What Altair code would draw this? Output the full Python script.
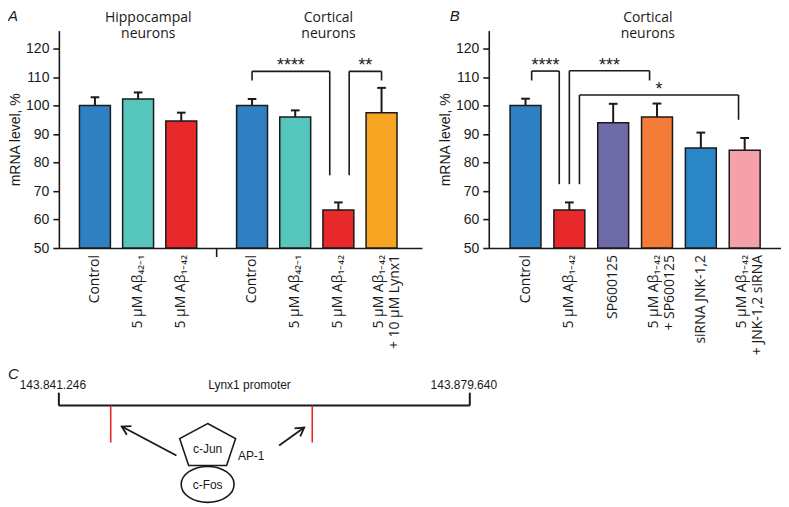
import math
import altair as alt
import pandas as pd

# ---------------- data ----------------
A_labels = ["Control", "5 μM Aβ₄₂₋₁", "5 μM Aβ₁₋₄₂", "Control", "5 μM Aβ₄₂₋₁",
            "5 μM Aβ₁₋₄₂", "5 μM Aβ₁₋₄₂\n+ 10 μM Lynx1"]
A_values = [100.0, 102.3, 94.6, 100.0, 96.0, 63.3, 97.5]
A_errors = [2.9, 2.3, 2.9, 2.3, 2.3, 2.7, 8.7]
A_colors = ["#2f80c2", "#56c5bc", "#e8292b", "#2f80c2", "#56c5bc", "#e8292b", "#f6a522"]
A_groups = [("Hippocampal", "neurons"), ("Cortical", "neurons")]

B_labels = ["Control", "5 μM Aβ₁₋₄₂", "SP600125", "5 μM Aβ₁₋₄₂\n+ SP600125",
            "siRNA JNK-1,2", "5 μM Aβ₁₋₄₂\n+ JNK-1,2 siRNA"]
B_values = [100.0, 63.3, 94.0, 96.0, 85.1, 84.3]
B_errors = [2.4, 2.7, 6.6, 4.7, 5.4, 4.3]
B_colors = ["#2f80c2", "#e8292b", "#6d6aa7", "#f47c38", "#2a86c5", "#f4a1aa"]
B_groups = [("Cortical", "neurons")]

# significance brackets: stars, left x, right x, bracket level, left leg end, right leg end
A_brackets = [("****", 4.64, 6.44, 112.0, 108.8, 75.5),
              ("**", 6.89, 7.64, 112.0, 75.5, 108.8)]
B_brackets = [("****", 1.14, 1.77, 112.1, 108.8, 72.4),
              ("***", 2.00, 3.83, 112.2, 72.4, 108.8),
              ("*", 2.23, 5.86, 103.7, 72.4, 95.0)]

# panel C: Lynx1 promoter and AP-1 sites
promoter_start = 143841246
promoter_end = 143879640
ap1_sites = [143846090, 143864920]

# ---------------- layout constants ----------------
H = 218
W_A, W_B = 364, 293
Y_DOMAIN = [50, 126.3]
XA_DOMAIN = [0.28, 8.46]
XB_DOMAIN = [0.275, 6.715]
GAP = 0.64
FONT = "Open Sans"
AXFONT = "Liberation Sans"
INK = "#1a1a1a"


def panel(labels, values, errors, colors, positions, brackets, groups, group_x,
          letter, letter_x, width, xdomain, separator=None):
    xs = alt.Scale(domain=xdomain, nice=False, zero=False)
    ys = alt.Scale(domain=Y_DOMAIN, nice=False, zero=False)
    xax = alt.Axis(labels=False, ticks=False, title=None, grid=False,
                   domainColor=INK, domainWidth=1.6)
    yax = alt.Axis(values=list(range(50, 121, 10)), title="mRNA level, %",
                   grid=False, domainColor=INK, domainWidth=1.6, tickColor=INK,
                   tickWidth=1.6, tickSize=6, labelPadding=4, labelFont=AXFONT,
                   labelFontSize=14, labelColor=INK, titleFont=AXFONT,
                   titleFontSize=14, titleFontWeight="normal", titleColor=INK,
                   titlePadding=3)

    def X(f):
        return alt.X(f, type="quantitative", scale=xs, axis=xax)

    def Y(f):
        return alt.Y(f, type="quantitative", scale=ys, axis=yax)

    px_per_unit = width / (xdomain[1] - xdomain[0])
    df = pd.DataFrame({"pos": positions, "value": values, "label": labels, "color": colors})
    df["top"] = [v + e for v, e in zip(values, errors)]
    df["capL"] = df["pos"] - 0.1
    df["capR"] = df["pos"] + 0.1
    df["lx"] = [p - (3.0 / px_per_unit if "\n" in l else 0.0) for p, l in zip(positions, labels)]

    bars = alt.Chart(df).mark_bar(size=31, stroke=INK, strokeWidth=1.5).encode(
        x=X("pos"), y=Y("value"), y2=alt.datum(50),
        color=alt.Color("color:N", scale=None))
    stems = alt.Chart(df).mark_rule(color=INK, strokeWidth=2).encode(
        x=X("pos"), y=Y("value"), y2=alt.Y2("top"))
    caps = alt.Chart(df).mark_rule(color=INK, strokeWidth=2).encode(
        x=X("capL"), x2=alt.X2("capR"), y=Y("top"))

    segs = []
    stars = []
    for s, xl, xr, yb, yl, yr in brackets:
        segs.append({"x": xl, "x2": xr, "y": yb, "y2": yb})
        segs.append({"x": xl, "x2": xl, "y": yb, "y2": yl})
        segs.append({"x": xr, "x2": xr, "y": yb, "y2": yr})
        stars.append({"mid": (xl + xr) / 2, "y": yb, "stars": s})
    seg_df = pd.DataFrame(segs)
    star_df = pd.DataFrame(stars)
    brk = alt.Chart(seg_df).mark_rule(color=INK, strokeWidth=1.6).encode(
        x=X("x"), x2=alt.X2("x2"), y=Y("y"), y2=alt.Y2("y2"))
    startext = alt.Chart(star_df).mark_text(
        baseline="alphabetic", fontSize=18, font=AXFONT, color=INK, dy=0).encode(
        x=X("mid"), y=Y("y"), text="stars:N")

    xlabels = alt.Chart(df).mark_text(
        angle=270, align="right", baseline="middle", lineBreak="\n", lineHeight=16,
        fontSize=14, font=FONT, color=INK).encode(
        x=X("lx"), y=alt.value(H + 7), text="label:N")

    gdf = pd.DataFrame({"gx": group_x,
                        "l1": [t[0] for t in groups],
                        "l2": [t[1] for t in groups]})
    gline1 = alt.Chart(gdf).mark_text(
        baseline="middle", align="center", fontSize=14, font=FONT, color=INK).encode(
        x=X("gx"), y=alt.value(-13), text="l1:N")
    gline2 = alt.Chart(gdf).mark_text(
        baseline="middle", align="center", fontSize=14, font=FONT, color=INK).encode(
        x=X("gx"), y=alt.value(3), text="l2:N")

    ldf = pd.DataFrame({"t": [letter]})
    let = alt.Chart(ldf).mark_text(
        align="left", baseline="top", fontSize=15, font=AXFONT, fontStyle="italic",
        color=INK).encode(x=alt.value(letter_x), y=alt.value(-22), text="t:N")

    layers = [bars, stems, caps, brk, startext, xlabels, gline1, gline2, let]
    if separator is not None:
        sdf = pd.DataFrame({"s": [separator]})
        layers.append(alt.Chart(sdf).mark_rule(color=INK, strokeWidth=1.6).encode(
            x=X("s"), y=alt.value(H), y2=alt.value(H + 9)))
    return alt.layer(*layers).properties(width=width, height=H)


A_pos = [i + 1 + (GAP if i >= 3 else 0.0) for i in range(len(A_values))]
B_pos = [i + 1 for i in range(len(B_values))]

panelA = panel(A_labels, A_values, A_errors, A_colors, A_pos, A_brackets,
               A_groups, [2.235, 6.41], "A", -51, W_A, XA_DOMAIN,
               separator=3 + (1 + GAP) / 2)
panelB = panel(B_labels, B_values, B_errors, B_colors, B_pos, B_brackets,
               B_groups, [3.79], "B", -39, W_B, XB_DOMAIN)

# ---------------- panel C: schematic ----------------
WC, HC = 412, 135
span = promoter_end - promoter_start


def g(frac):
    return promoter_start + frac * span


cxs = alt.Scale(domain=[promoter_start, promoter_end], nice=False, zero=False)
cys = alt.Scale(domain=[0, HC], nice=False, zero=False, reverse=True)


def CX(f):
    return alt.X(f, type="quantitative", scale=cxs, axis=None)


def CY(f):
    return alt.Y(f, type="quantitative", scale=cys, axis=None)


CFONT = "Liberation Sans"
LINE_Y, TICK_TOP, SITE_BOTTOM = 36, 23, 73
line_df = pd.DataFrame({"x": [promoter_start, promoter_start, promoter_end],
                        "x2": [promoter_end, promoter_start, promoter_end],
                        "y": [LINE_Y, TICK_TOP, TICK_TOP],
                        "y2": [LINE_Y, LINE_Y, LINE_Y]})
c_line = alt.Chart(line_df).mark_rule(color=INK, strokeWidth=2).encode(
    x=CX("x"), x2=alt.X2("x2"), y=CY("y"), y2=alt.Y2("y2"))

site_df = pd.DataFrame({"x": ap1_sites, "y": [LINE_Y] * 2, "y2": [SITE_BOTTOM] * 2})
c_sites = alt.Chart(site_df).mark_rule(color="#e02a2a", strokeWidth=1.6).encode(
    x=CX("x"), y=CY("y"), y2=alt.Y2("y2"))

num_df = pd.DataFrame({"x": [promoter_start, promoter_end],
                       "t": [f"{v:,}".replace(",", ".") for v in (promoter_start, promoter_end)],
                       "y": [15, 15]})
c_nums = alt.Chart(num_df).mark_text(
    fontSize=12, font=CFONT, color=INK, baseline="middle", dx=-6).encode(
    x=CX("x"), y=CY("y"), text="t:N")

lab_df = pd.DataFrame({"x": [g(0.464), g(0.362), g(0.362), g(0.468)],
                       "y": [15, 80, 116, 87],
                       "t": ["Lynx1 promoter", "c-Jun", "c-Fos", "AP-1"]})
c_labs = alt.Chart(lab_df).mark_text(
    fontSize=12, font=CFONT, color=INK, baseline="middle").encode(
    x=CX("x"), y=CY("y"), text="t:N")

# arrows (start -> tip)
arrows = [(0.286, 86, 0.153, 57), (0.536, 76, 0.597, 58)]
arr_rows, head_rows = [], []
for fx0, y0, fx1, y1 in arrows:
    arr_rows.append({"x": g(fx0), "y": y0, "x2": g(fx1), "y2": y1})
    dxp = (fx1 - fx0) * WC
    dyp = (y1 - y0)
    ang = math.degrees(math.atan2(dxp, -dyp)) % 360
    head_rows.append({"x": g(fx1), "y": y1, "a": ang})
c_shafts = alt.Chart(pd.DataFrame(arr_rows)).mark_rule(color=INK, strokeWidth=1.8).encode(
    x=CX("x"), y=CY("y"), x2=alt.X2("x2"), y2=alt.Y2("y2"))
c_heads = alt.Chart(pd.DataFrame(head_rows)).mark_point(
    shape="M -0.7 1.2 L 0 0 L 0.7 1.2", filled=False, size=196, color=INK,
    strokeWidth=1.8, opacity=1).encode(
    x=CX("x"), y=CY("y"), angle=alt.Angle("a:Q", scale=None))

pent_df = pd.DataFrame({"x": [g(0.362)], "y": [75]})
c_pent = alt.Chart(pent_df).mark_point(
    shape="M 0 -0.75 L 1 -0.21 L 0.68 0.75 L -0.68 0.75 L -1 -0.21 Z",
    size=3136, filled=False, color=INK, strokeWidth=1.6, opacity=1).encode(
    x=CX("x"), y=CY("y"))
ell_df = pd.DataFrame({"x": [g(0.362)], "y": [115]})
c_ell = alt.Chart(ell_df).mark_point(
    shape="M -1 0 A 1 0.68 0 1 0 1 0 A 1 0.68 0 1 0 -1 0 Z",
    size=2809, filled=False, color=INK, strokeWidth=1.6, opacity=1).encode(
    x=CX("x"), y=CY("y"))

c_letter = alt.Chart(pd.DataFrame({"t": ["C"]})).mark_text(
    align="left", baseline="top", fontSize=15, font=AXFONT, fontStyle="italic",
    color=INK).encode(x=alt.value(-51), y=alt.value(-3), text="t:N")

panelC = alt.layer(c_line, c_sites, c_nums, c_labs, c_shafts, c_heads, c_pent,
                   c_ell, c_letter).properties(width=WC, height=HC)

top = alt.hconcat(panelA, panelB, spacing=67, bounds="flush")
chart = alt.vconcat(top, panelC, spacing=H + 122, bounds="flush").properties(
    padding=0
).configure_view(stroke=None)

chart.save("out.html", embed_options={"renderer": "svg", "actions": False})
